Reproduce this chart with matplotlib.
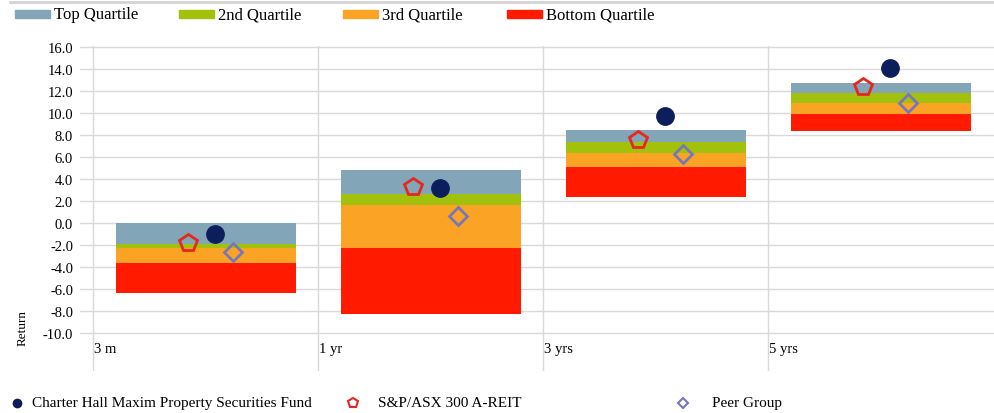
import numpy as np
import matplotlib
matplotlib.use("Agg")
import matplotlib.pyplot as plt
from matplotlib.patches import Rectangle
from matplotlib.lines import Line2D

plt.rcParams['font.family'] = ['Liberation Serif', 'DejaVu Serif']

periods = ['3 m', '1 yr', '3 yrs', '5 yrs']

# quartile band edges (top -> bottom)
q_top = [0.0, 4.85, 8.45, 12.7]
q_upper = [-1.9, 2.6, 7.4, 11.8]
q_median = [-2.3, 1.6, 6.35, 10.9]
q_lower = [-3.6, -2.3, 5.1, 9.9]
q_bottom = [-6.4, -8.3, 2.4, 8.35]

fund = [-1.0, 3.2, 9.7, 14.1]
index_ret = [-1.85, 3.25, 7.55, 12.4]
peer = [-2.65, 0.65, 6.25, 10.95]

band_labels = ['Top Quartile', '2nd Quartile', '3rd Quartile', 'Bottom Quartile']
band_colors = ['#82a5b7', '#a2c10c', '#fba324', '#ff1a00']

W, H = 994, 414
fig = plt.figure(figsize=(W / 100, H / 100), dpi=100)
ax = fig.add_axes([80 / W, 1 - 372 / H, 914 / W, (372 - 47) / H])

x = np.arange(len(periods)) + 0.5
edges = np.array([q_top, q_upper, q_median, q_lower, q_bottom])
for i in range(4):
    ax.bar(x, edges[i] - edges[i + 1], bottom=edges[i + 1], width=0.8,
           color=band_colors[i], zorder=2, linewidth=0)

ax.plot(x + 0.04, fund, 'o', color='#0c1e5b', ms=12.5, zorder=4)
ax.plot(x - 0.08, index_ret, 'p', mfc='none', mec='#e5281f', mew=2, ms=13, zorder=4)
ax.plot(x + 0.12, peer, 'D', mfc='none', mec='#7777b8', mew=2, ms=9.5, zorder=4)

ax.set_xlim(-13 / 225, 901 / 225)
ax.set_ylim(-13.45, 16.09)
ax.set_yticks(np.arange(-10, 17, 2))
ax.set_yticklabels([f'{v:.1f}' for v in np.arange(-10, 17, 2)], fontsize=10.5)
ax.set_xticks(np.arange(4))
ax.set_xticklabels([])
ax.tick_params(length=0, pad=5)
ax.grid(True, color='#d9d9d9', lw=1, zorder=0)
ax.set_axisbelow(True)
for s in ax.spines.values():
    s.set_visible(False)

for i, lab in enumerate(periods):
    ax.text(i + 0.005, -11.45, lab, ha='left', va='center', fontsize=10.5)

fig.text(23 / W, 1 - 328 / H, 'Return', rotation=90, ha='center', va='center', fontsize=9.5)

# top separator line
fig.add_artist(Line2D([10 / W, 1], [1 - 3 / H, 1 - 3 / H], transform=fig.transFigure,
                      color='#d4d4d4', lw=2))

# quartile legend
for j, (lab, col) in enumerate(zip(band_labels, band_colors)):
    x0 = 15 + 164 * j
    fig.add_artist(Rectangle((x0 / W, 1 - 18.5 / H), 35 / W, 8 / H,
                             transform=fig.transFigure, color=col))
    fig.text((x0 + 39) / W, 1 - 15 / H, lab, ha='left', va='center', fontsize=12)

# series legend
items = [('o', dict(color='#0c1e5b', ms=6), 17, 32, 'Charter Hall Maxim Property Securities Fund'),
         ('p', dict(mfc='none', mec='#e5281f', mew=1.5, ms=7), 353, 378, 'S&P/ASX 300 A-REIT'),
         ('D', dict(mfc='none', mec='#7777b8', mew=1.5, ms=5), 683, 712, 'Peer Group')]
for mk, kw, mx, tx, lab in items:
    fig.add_artist(Line2D([mx / W], [1 - 404 / H], marker=mk, ls='none',
                          transform=fig.transFigure, **kw))
    fig.text(tx / W, 1 - 404 / H, lab, ha='left', va='center', fontsize=11)

fig.savefig('out.png', dpi=100)
